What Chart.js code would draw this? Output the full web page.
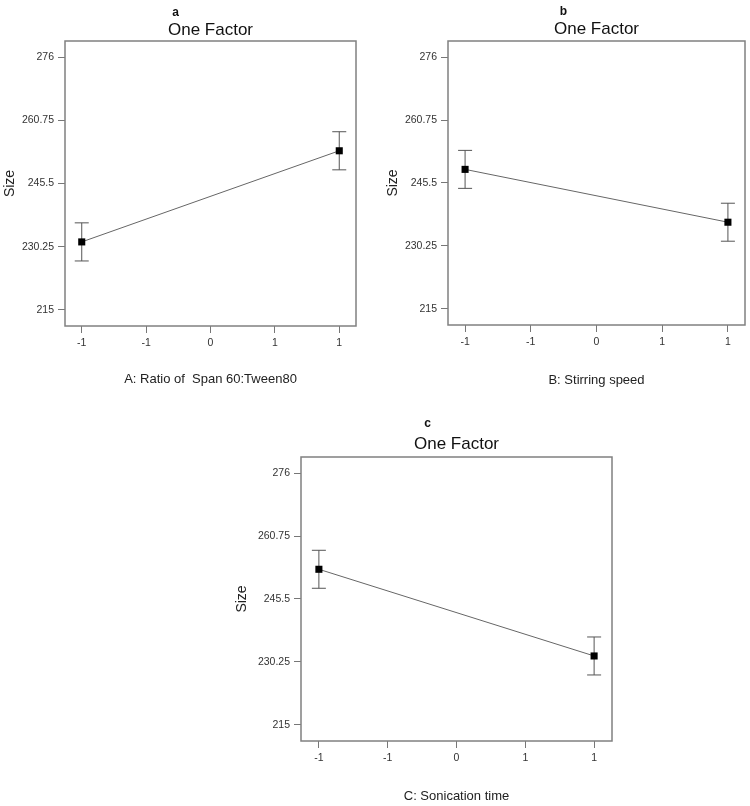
<!DOCTYPE html>
<html>
<head>
<meta charset="utf-8">
<script src="https://cdn.jsdelivr.net/npm/chart.js@4.4.1/dist/chart.umd.min.js"></script>
<style>
body { margin: 0; background: #fff; width: 750px; height: 806px; position: relative; overflow: hidden; }
.panel { position: absolute; }
</style>
</head>
<body>
<div class="panel" style="left:0;top:0;width:372px;height:395px"><canvas id="chartA"></canvas></div>
<div class="panel" style="left:375px;top:0;width:375px;height:395px"><canvas id="chartB"></canvas></div>
<div class="panel" style="left:220px;top:400px;width:410px;height:406px"><canvas id="chartC"></canvas></div>
<script>
// factor levels and tick labels
const xLevels = [-1, 1];
const xTickValues = [-1, -0.5, 0, 0.5, 1];
const xTickLabels = ['-1', '-1', '0', '1', '1'];
const yTickValues = [215, 230.25, 245.5, 260.75, 276];

// predicted size at each level, with error bar half widths
const sizeA = [231.4, 253.4];
const sizeB = [248.8, 236.0];
const sizeC = [252.7, 231.7];
const errA = [4.6, 4.6];
const errB = [4.6, 4.6];
const errC = [4.6, 4.6];

Chart.defaults.font.family = "'Liberation Sans', Arial, sans-serif";
Chart.defaults.color = '#222';

const boxAndErrors = {
    id: 'boxAndErrors',
    beforeDatasetsDraw(chart, args, opts) {
        const ctx = chart.ctx;
        const ca = chart.chartArea;
        const xs = chart.scales.x, ys = chart.scales.y;
        ctx.save();
        ctx.strokeStyle = '#808080';
        ctx.lineWidth = 1.5;
        ctx.strokeRect(ca.left, ca.top, ca.right - ca.left, ca.bottom - ca.top);
        // error bars
        ctx.strokeStyle = '#555';
        ctx.lineWidth = 1;
        opts.values.forEach(function(v, i) {
            const x = xs.getPixelForValue(xLevels[i]);
            const yt = ys.getPixelForValue(v + opts.errs[i]);
            const yb = ys.getPixelForValue(v - opts.errs[i]);
            ctx.beginPath();
            ctx.moveTo(x, yt); ctx.lineTo(x, yb);
            ctx.moveTo(x - 7, yt); ctx.lineTo(x + 7, yt);
            ctx.moveTo(x - 7, yb); ctx.lineTo(x + 7, yb);
            ctx.stroke();
        });
        ctx.restore();
    },
    afterDraw(chart, args, opts) {
        const ctx = chart.ctx;
        const ca = chart.chartArea;
        ctx.save();
        ctx.font = "bold 12px 'Liberation Sans', Arial, sans-serif";
        ctx.fillStyle = '#111';
        ctx.textAlign = 'center';
        ctx.textBaseline = 'alphabetic';
        ctx.fillText(opts.letter, (ca.left + ca.right) / 2 + opts.letterDx, ca.top - opts.letterDy);
        ctx.restore();
    }
};

function makePanel(id, values, errs, xTitle, o) {
    const pts = values.map((v, i) => ({ x: xLevels[i], y: v }));
    return new Chart(document.getElementById(id), {
        type: 'line',
        data: {
            datasets: [{
                data: pts,
                borderColor: '#666',
                borderWidth: 1,
                tension: 0,
                pointStyle: 'rect',
                pointRadius: 5,
                pointBackgroundColor: '#000',
                pointBorderColor: '#000',
                pointBorderWidth: 0,
                clip: false
            }]
        },
        options: {
            responsive: true,
            maintainAspectRatio: false,
            animation: false,
            layout: { padding: { left: 0, right: o.padRight, top: 0, bottom: 0 } },
            plugins: {
                legend: { display: false },
                tooltip: { enabled: false },
                title: {
                    display: true,
                    text: 'One Factor',
                    fullSize: false,
                    color: '#111',
                    font: { size: 17, weight: 'normal', lineHeight: 1 },
                    padding: o.titlePad
                },
                boxAndErrors: { values: values, errs: errs, letter: o.letter, letterDx: o.letterDx, letterDy: o.letterDy }
            },
            scales: {
                x: {
                    type: 'linear',
                    min: -1.13,
                    max: 1.13,
                    border: { display: false },
                    grid: { display: true, drawOnChartArea: false, drawTicks: true, tickLength: 7, color: '#777' },
                    ticks: {
                        autoSkip: false,
                        maxRotation: 0,
                        padding: 4,
                        color: '#333',
                        font: { size: 10.5 },
                        callback: (value, index) => xTickLabels[index]
                    },
                    afterBuildTicks: (s) => { s.ticks = xTickValues.map(v => ({ value: v })); },
                    afterFit: (s) => { s.height = o.xHeight; },
                    title: {
                        display: true,
                        text: xTitle,
                        color: '#222',
                        font: { size: 13 },
                        padding: { top: 0, bottom: o.xTitlePad }
                    }
                },
                y: {
                    min: 211.1,
                    max: 279.9,
                    border: { display: false },
                    grid: { display: true, drawOnChartArea: false, drawTicks: true, tickLength: 7, color: '#777' },
                    ticks: {
                        autoSkip: false,
                        padding: 4,
                        color: '#333',
                        font: { size: 10.5 },
                        callback: (value) => String(value)
                    },
                    afterBuildTicks: (s) => { s.ticks = yTickValues.map(v => ({ value: v })); },
                    afterFit: (s) => { s.width = o.yWidth; },
                    title: {
                        display: true,
                        text: 'Size',
                        color: '#222',
                        font: { size: 14 },
                        padding: { top: o.yTitlePad, bottom: 0 }
                    }
                }
            }
        },
        plugins: [boxAndErrors]
    });
}

makePanel('chartA', sizeA, errA, 'A: Ratio of  Span 60:Tween80', {
    padRight: 16, yWidth: 65, xHeight: 69, xTitlePad: 7.5, yTitlePad: 1.6,
    titlePad: { top: 22, bottom: 2 }, letter: 'a', letterDx: -35, letterDy: 25
});
makePanel('chartB', sizeB, errB, 'B: Stirring speed', {
    padRight: 5, yWidth: 73, xHeight: 70, xTitlePad: 6.5, yTitlePad: 9.6,
    titlePad: { top: 21, bottom: 3 }, letter: 'b', letterDx: -33, letterDy: 26
});
makePanel('chartC', sizeC, errC, 'C: Sonication time', {
    padRight: 18, yWidth: 81, xHeight: 65, xTitlePad: 2.2, yTitlePad: 13.6,
    titlePad: { top: 36, bottom: 4 }, letter: 'c', letterDx: -29, letterDy: 30
});
</script>
</body>
</html>
